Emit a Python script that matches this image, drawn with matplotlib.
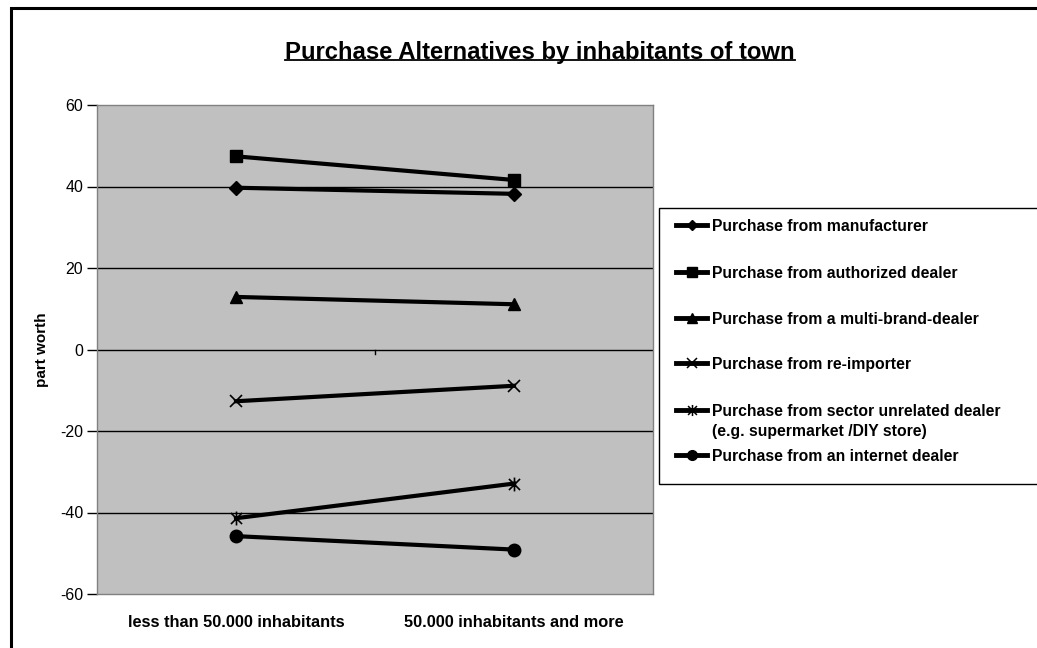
import matplotlib.pyplot as plt
from matplotlib.lines import Line2D
from matplotlib.patches import Rectangle
from matplotlib.path import Path

plt.rcParams['font.family'] = ['Liberation Sans', 'DejaVu Sans']
plt.rcParams['axes.unicode_minus'] = False

# data
categories = ['less than 50.000 inhabitants', '50.000 inhabitants and more']
series_names = ['Purchase from manufacturer',
                'Purchase from authorized dealer',
                'Purchase from a multi-brand-dealer',
                'Purchase from re-importer',
                'Purchase from sector unrelated dealer\n(e.g. supermarket /DIY store)',
                'Purchase from an internet dealer']
manufacturer = [39.7, 38.2]
authorized = [47.4, 41.6]
multi_brand = [12.9, 11.1]
re_importer = [-12.7, -8.9]
sector_unrelated = [-41.4, -32.9]
internet = [-45.8, -49.1]

series = [manufacturer, authorized, multi_brand, re_importer, sector_unrelated, internet]

# asterisk marker: X plus vertical stroke
star = Path([(0, -1), (0, 1), (-0.8, -0.8), (0.8, 0.8), (-0.8, 0.8), (0.8, -0.8)],
            [Path.MOVETO, Path.LINETO, Path.MOVETO, Path.LINETO, Path.MOVETO, Path.LINETO])
markers = ['D', 's', '^', 'x', star, 'o']
msizes = [7, 9, 9, 9, 10, 9]
thin = [False, False, False, True, True, False]

W, H = 1037, 648
fig = plt.figure(figsize=(W / 100, H / 100), dpi=100)

def fx(px):
    return px / W

def fy(py):
    return 1 - py / H

# outer chart frame (cut off at right and bottom)
fig.patches.append(Rectangle((fx(11), -0.1), 1.2, fy(7.5) + 0.1,
                             transform=fig.transFigure, fill=False,
                             edgecolor='black', linewidth=2.2))

ax = fig.add_axes([fx(97), fy(594), 556 / W, 489 / H])
ax.set_facecolor('#C0C0C0')

x = [0.5, 1.5]
for vals, m, ms, t in zip(series, markers, msizes, thin):
    ax.plot(x, vals, color='black', linewidth=3, marker=m, markersize=ms,
            markeredgewidth=1.2 if t else 1)

ax.set_xlim(0, 2)
ax.set_ylim(-60, 60)
ax.set_yticks(range(-60, 61, 20))
for yv in [-40, -20, 20, 40]:
    ax.axhline(yv, color='black', linewidth=1)
ax.axhline(0, color='black', linewidth=1)
ax.plot([1, 1], [0, -1.2], color='black', linewidth=1)

ax.set_xticks(x)
ax.set_xticklabels(categories, fontweight='bold', fontsize=11.8)
ax.tick_params(axis='x', length=0, pad=15)
ax.tick_params(axis='y', direction='out', length=7, width=1, labelsize=11.5, pad=3)
for s in ax.spines.values():
    s.set_color('#808080')
    s.set_linewidth(1)
ax.set_ylabel('part worth', fontweight='bold', fontsize=11, labelpad=8)

title = fig.text(fx(285), fy(59), 'Purchase Alternatives by inhabitants of town',
                 ha='left', va='baseline', fontsize=17.2, fontweight='bold')
fig.canvas.draw()
bb = title.get_window_extent()
fig.add_artist(Line2D([bb.x0 / W, bb.x1 / W], [fy(60), fy(60)],
                      color='black', linewidth=1.3))

# legend box, drawn by hand to follow the original spacing
fig.patches.append(Rectangle((fx(659), fy(484)), 1.0, fy(208) - fy(484),
                             transform=fig.transFigure, fill=True,
                             facecolor='white', edgecolor='black', linewidth=1))
row_y = [225, 272, 318, 363, 410, 455]
for name, m, ms, t, ry in zip(series_names, markers, msizes, thin, row_y):
    fig.add_artist(Line2D([fx(676), fx(707)], [fy(ry), fy(ry)], color='black',
                          linewidth=3.5))
    fig.add_artist(Line2D([fx(691.5)], [fy(ry)], color='black', marker=m,
                          markersize=ms - 2, markeredgewidth=1.1 if t else 1,
                          linestyle='none'))
    for k, line in enumerate(name.split('\n')):
        fig.text(fx(712), fy(ry + 20 * k), line, ha='left', va='center_baseline',
                 fontsize=11.3, fontweight='bold')

fig.savefig('out.png', dpi=100)
